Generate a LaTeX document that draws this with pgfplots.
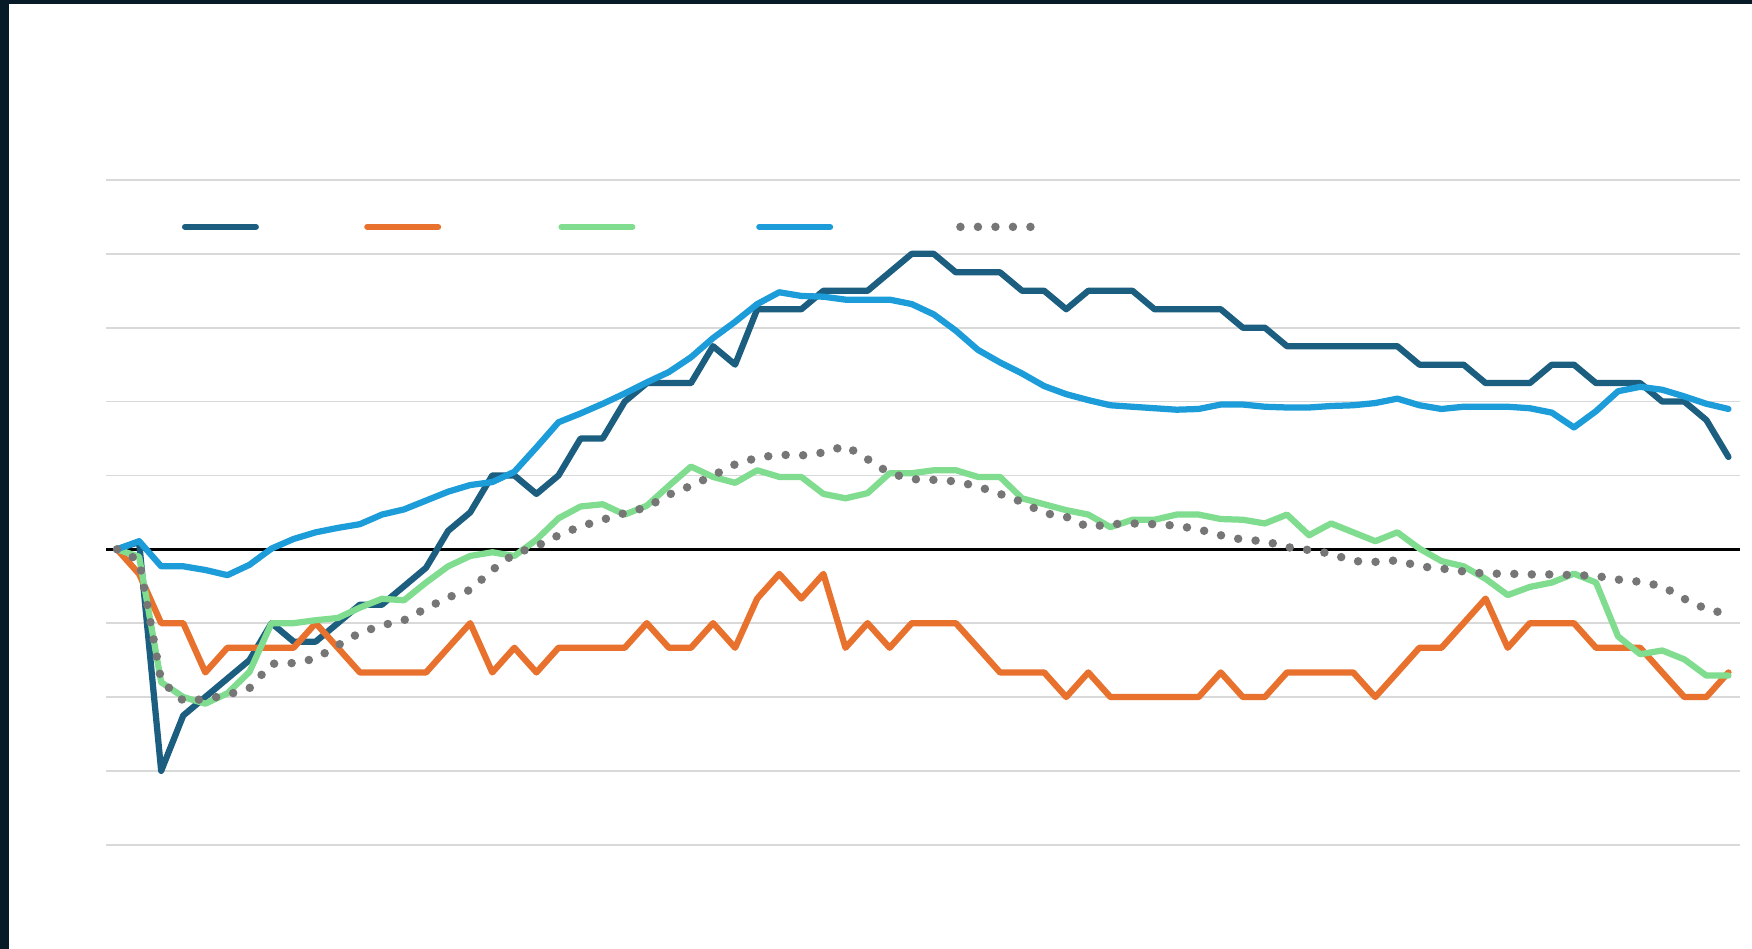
\documentclass[border=0pt]{standalone}
\usepackage{pgfplots}
\usepackage{pgfplotstable}
\pgfplotsset{compat=1.18}
\definecolor{cDB}{HTML}{1B5E80}
\definecolor{cOR}{HTML}{E8722D}
\definecolor{cGR}{HTML}{80DC8F}
\definecolor{cLB}{HTML}{1C9CD8}
\definecolor{cGY}{HTML}{767676}
\definecolor{cGrid}{HTML}{D9D9D9}
\definecolor{cFrame}{HTML}{061B27}
\pgfplotstableread{
i db ob gr lb gy
0 0 0 0 0 0
1 0.1 -0.333 -0.1 0.11 -0.15
2 -3 -1 -1.80 -0.23 -1.78
3 -2.25 -1 -2.0 -0.23 -2.05
4 -2.0 -1.667 -2.09 -0.28 -2.03
5 -1.75 -1.333 -1.95 -0.35 -1.97
6 -1.5 -1.333 -1.66 -0.21 -1.88
7 -1.0 -1.333 -1.0 0.01 -1.55
8 -1.25 -1.333 -1.0 0.14 -1.54
9 -1.25 -1 -0.96 0.23 -1.48
10 -1.0 -1.333 -0.93 0.29 -1.30
11 -0.75 -1.667 -0.79 0.34 -1.13
12 -0.75 -1.667 -0.67 0.47 -1.03
13 -0.5 -1.667 -0.69 0.54 -0.96
14 -0.25 -1.667 -0.45 0.66 -0.80
15 0.25 -1.333 -0.23 0.78 -0.65
16 0.5 -1 -0.09 0.87 -0.55
17 1.0 -1.667 -0.04 0.91 -0.28
18 1.0 -1.333 -0.09 1.05 -0.06
19 0.75 -1.667 0.13 1.38 0.04
20 1.0 -1.333 0.42 1.72 0.19
21 1.5 -1.333 0.58 1.84 0.31
22 1.5 -1.333 0.61 1.97 0.40
23 2.0 -1.333 0.47 2.11 0.49
24 2.25 -1 0.59 2.26 0.57
25 2.25 -1.333 0.86 2.40 0.74
26 2.25 -1.333 1.12 2.60 0.86
27 2.75 -1 0.98 2.86 1.00
28 2.5 -1.333 0.90 3.08 1.15
29 3.25 -0.667 1.07 3.32 1.24
30 3.25 -0.333 0.98 3.48 1.28
31 3.25 -0.667 0.98 3.43 1.27
32 3.5 -0.333 0.75 3.42 1.31
33 3.5 -1.333 0.69 3.38 1.40
34 3.5 -1 0.76 3.38 1.22
35 3.75 -1.333 1.03 3.38 1.03
36 4.0 -1 1.03 3.32 0.95
37 4.0 -1 1.07 3.18 0.94
38 3.75 -1 1.07 2.96 0.92
39 3.75 -1.333 0.98 2.70 0.85
40 3.75 -1.667 0.98 2.53 0.75
41 3.5 -1.667 0.69 2.38 0.64
42 3.5 -1.667 0.61 2.21 0.49
43 3.25 -2 0.53 2.10 0.44
44 3.5 -1.667 0.47 2.02 0.30
45 3.5 -2 0.30 1.95 0.34
46 3.5 -2 0.40 1.93 0.35
47 3.25 -2 0.40 1.91 0.34
48 3.25 -2 0.47 1.89 0.32
49 3.25 -2 0.47 1.90 0.27
50 3.25 -1.667 0.41 1.96 0.19
51 3.0 -2 0.40 1.96 0.13
52 3.0 -2 0.35 1.93 0.11
53 2.75 -1.667 0.47 1.92 0.03
54 2.75 -1.667 0.19 1.92 -0.01
55 2.75 -1.667 0.35 1.94 -0.06
56 2.75 -1.667 0.23 1.95 -0.16
57 2.75 -2 0.11 1.98 -0.17
58 2.75 -1.667 0.23 2.04 -0.15
59 2.5 -1.333 0.01 1.95 -0.23
60 2.5 -1.333 -0.16 1.90 -0.26
61 2.5 -1 -0.23 1.93 -0.30
62 2.25 -0.667 -0.40 1.93 -0.33
63 2.25 -1.333 -0.62 1.93 -0.33
64 2.25 -1 -0.51 1.91 -0.34
65 2.5 -1 -0.45 1.85 -0.34
66 2.5 -1 -0.33 1.65 -0.35
67 2.25 -1.333 -0.45 1.87 -0.36
68 2.25 -1.333 -1.18 2.14 -0.41
69 2.25 -1.333 -1.42 2.20 -0.44
70 2.0 -1.667 -1.37 2.16 -0.50
71 2.0 -2 -1.49 2.07 -0.67
72 1.75 -2 -1.71 1.97 -0.81
73 1.25 -1.667 -1.71 1.90 -0.88
}\data
\begin{document}
\begin{tikzpicture}
\fill[white] (-42.4pt,-41.7pt) rectangle (658.4pt,337.9pt);
\fill[cFrame] (-42.4pt,-41.7pt) rectangle (-38.8pt,337.9pt);
\fill[cFrame] (-42.4pt,336.1pt) rectangle (658.4pt,337.9pt);
\begin{axis}[
  at={(0pt,0pt)}, anchor=south west,
  scale only axis, width=653.4pt, height=265.9pt,
  xmin=-0.5, xmax=73.5, ymin=-4, ymax=5,
  axis line style={draw=none},
  xtick=\empty, ytick={-4,-3,-2,-1,1,2,3,4,5},
  yticklabels={}, major tick length=0pt, tick style={draw=none},
  ymajorgrids, grid style={draw=cGrid, line width=0.7pt},
  extra y ticks={0}, extra y tick labels={},
  extra y tick style={grid style={draw=black, line width=1.1pt}, tick style={draw=none}},
  legend columns=5,
  legend style={at={(0.0465,0.9295)}, anchor=west, draw=none, fill=none,
    inner sep=0pt, outer sep=0pt, column sep=0pt,
    nodes={inner sep=0pt, outer sep=0pt},
    /tikz/every even column/.append style={column sep=0pt},
    /tikz/every odd column/.append style={column sep=0pt}},
  legend image code/.code={\draw[#1] (0pt,0pt) -- (28.3pt,0pt);},
  every axis plot/.append style={line join=round, line cap=round},
]
\addplot[cDB, line width=2.5pt] table[x=i,y=db]{\data};
\addlegendentry{\hspace*{42.1pt}}
\addplot[cOR, line width=2.5pt] table[x=i,y=ob]{\data};
\addlegendentry{\hspace*{46.9pt}}
\addplot[cGR, line width=2.5pt] table[x=i,y=gr]{\data};
\addlegendentry{\hspace*{48.3pt}}
\addplot[cLB, line width=2.5pt] table[x=i,y=lb]{\data};
\addlegendentry{\hspace*{49.2pt}}
\addplot[cGY, line width=3.4pt, line cap=round, dash pattern=on 0pt off 7pt] table[x=i,y=gy]{\data};
\addlegendentry{\hspace*{0pt}}
\end{axis}
\pgfresetboundingbox
\useasboundingbox (-42.4pt,-41.7pt) rectangle (658.4pt,337.9pt);
\end{tikzpicture}
\end{document}
